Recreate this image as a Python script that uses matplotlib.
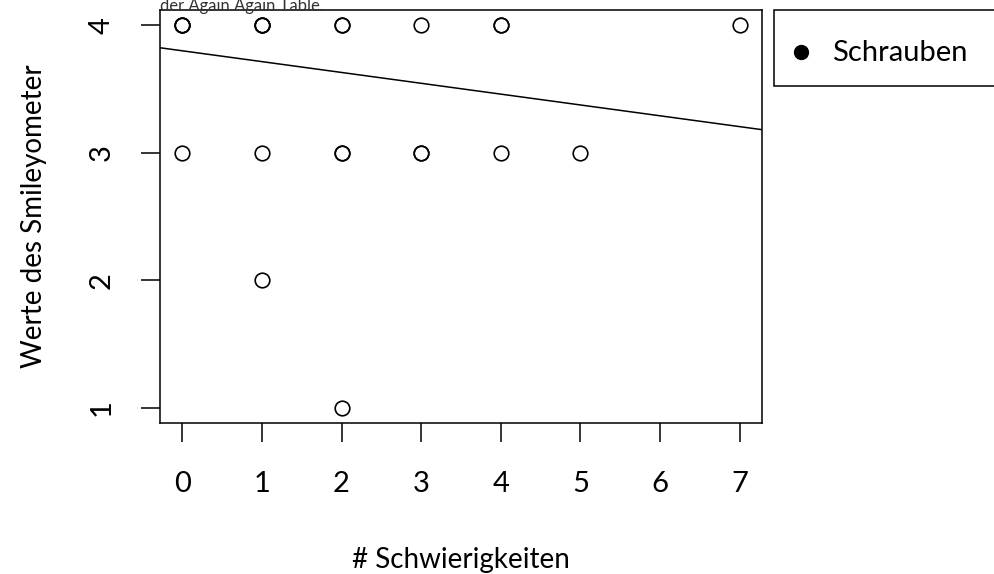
import matplotlib.pyplot as plt
from matplotlib.patches import Rectangle
from matplotlib.lines import Line2D
import numpy as np

plt.rcParams['font.family'] = ['Lato', 'DejaVu Sans']

# Schwierigkeiten vs. Smileyometer (repeated pairs are stacked on each other)
schwierigkeiten = [0, 0, 0, 0,
                   1, 1, 1, 1, 1,
                   2, 2, 2, 2, 2,
                   3, 3, 3,
                   4, 4, 4,
                   5,
                   7]
smiley = [4, 4, 4, 3,
          4, 4, 4, 3, 2,
          4, 4, 3, 3, 1,
          4, 3, 3,
          4, 4, 3,
          3,
          4]

# lm fit
intercept = 3.80
slope = -0.085

x_ticks = [0, 1, 2, 3, 4, 5, 6, 7]
y_ticks = [1, 2, 3, 4]

fig = plt.figure(figsize=(9.94, 5.74), dpi=100)
ax = fig.add_axes([160 / 994, 1 - 423 / 574, 602 / 994, 413 / 574])

ax.plot(schwierigkeiten, smiley, linestyle='none', marker='o', markersize=10.5,
        markerfacecolor='none', markeredgecolor='black', markeredgewidth=1.2)

ax.set_xlim(-0.28, 7.28)
ax.set_ylim(0.88, 4.12)
xs = np.array(ax.get_xlim())
ax.plot(xs, intercept + slope * xs, color='black', linewidth=1.1)

ax.set_xticks(x_ticks)
ax.set_yticks(y_ticks)
ax.tick_params(axis='both', direction='out', length=13.5, width=1.1,
               labelsize=21, pad=19)
ax.tick_params(axis='x', pad=21)
for lab in ax.get_yticklabels():
    lab.set_rotation(90)
    lab.set_va('center')
for s in ax.spines.values():
    s.set_linewidth(1.1)

ax.set_xlabel('# Schwierigkeiten', fontsize=20, labelpad=36)
ax.set_ylabel('Werte des Smileyometer', fontsize=20, labelpad=30)

fig.text(160 / 994, 1 - 11 / 574, 'der Again Again Table.', fontsize=12,
         color='#333333', ha='left', va='baseline')

# legend drawn as a plain box at the right
fig.patches.append(Rectangle((774 / 994, 1 - 86 / 574), 240 / 994, 76 / 574,
                             transform=fig.transFigure, facecolor='white',
                             edgecolor='black', linewidth=1.1))
fig.lines.append(Line2D([801 / 994], [1 - 52 / 574], transform=fig.transFigure,
                        marker='o', markersize=10, color='black', linestyle='none'))
fig.text(832 / 994, 1 - 53 / 574, 'Schrauben', fontsize=21, va='center', ha='left')

fig.savefig('out.png', dpi=100)
